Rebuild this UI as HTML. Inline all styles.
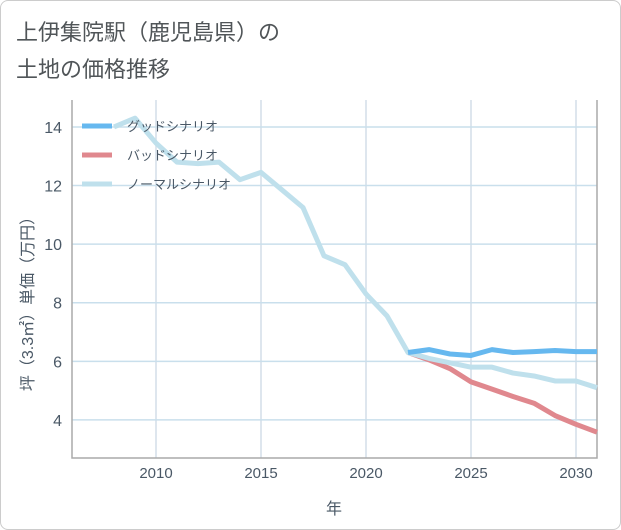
<!DOCTYPE html>
<html><head><meta charset="utf-8"><style>
body{margin:0;background:#fff;font-family:"Liberation Sans","Noto Sans CJK JP",sans-serif;}
#card{position:absolute;left:0;top:0;width:619px;height:528px;border:1px solid #ccc;border-radius:8px;background:#fff;}
#title{position:absolute;left:16px;top:14px;font-size:22px;line-height:37px;color:#505558;}
svg{position:absolute;left:0;top:0}
</style></head><body>
<div id="card"></div>
<div id="title">上伊集院駅（鹿児島県）の<br>土地の価格推移</div>
<svg id="chart" width="621" height="530"></svg>
<script>
const years=[2008,2009,2010,2011,2012,2013,2014,2015,2016,2017,2018,2019,2020,2021,2022,2023,2024,2025,2026,2027,2028,2029,2030,2031];
const normal=[14.0,14.3,13.45,12.8,12.75,12.8,12.2,12.45,11.85,11.25,9.6,9.3,8.3,7.55,6.3,6.1,5.95,5.8,5.8,5.6,5.5,5.33,5.33,5.1];
const goodYears=[2022,2023,2024,2025,2026,2027,2028,2029,2030,2031];
const good=[6.3,6.4,6.25,6.2,6.4,6.3,6.33,6.37,6.33,6.33];
const bad=[6.3,6.05,5.75,5.3,5.05,4.8,4.57,4.15,3.85,3.58];
const xTicks=[2010,2015,2020,2025,2030];
const yTicks=[4,6,8,10,12,14];
const L=72,R=597,T=100,B=458,x0=2006,x1=2031,y0=2.7,y1=14.92;
const X=v=>L+(v-x0)/(x1-x0)*(R-L), Y=v=>B-(v-y0)/(y1-y0)*(B-T);
const svg=document.getElementById('chart');const NS='http://www.w3.org/2000/svg';
const TC='#4a5866';
function mk(t,a,p){const e=document.createElementNS(NS,t);for(const k in a)e.setAttribute(k,a[k]);(p||svg).appendChild(e);return e;}
for(const t of xTicks){const l=mk('line',{x1:X(t),x2:X(t),y1:T,y2:B,stroke:'#d3dde8','stroke-width':1.5});


const tx=mk('text',{x:X(t),y:478,'text-anchor':'middle','font-size':15,fill:TC});tx.textContent=t;

}
for(const t of yTicks){const l=mk('line',{x1:L,x2:R,y1:Y(t),y2:Y(t),stroke:'#c9dfec','stroke-width':1.5});


const tx=mk('text',{x:62,y:Y(t)+6,'text-anchor':'end','font-size':16,fill:TC});tx.textContent=t;

}
const ax=mk('path',{d:`M${L} ${T}V${B}H${R}V${T}`,fill:'none',stroke:'#aaa','stroke-width':1.5});


function line(xs,ys,c,n){const p=mk('polyline',{points:xs.map((v,i)=>X(v)+','+Y(ys[i])).join(' '),fill:'none',stroke:c,'stroke-width':5,'stroke-linejoin':'round'});

}
line(goodYears,bad,'#e0888e','bad-scenario-line');
line(years,normal,'#bfe0ec','normal-scenario-line');
line(goodYears,good,'#66b8ef','good-scenario-line');
const leg=[['グッドシナリオ','#66b8ef'],['バッドシナリオ','#e0888e'],['ノーマルシナリオ','#bfe0ec']];
leg.forEach((e,i)=>{const g=mk('g',{});


const y=126+i*29;mk('line',{x1:82,x2:112,y1:y,y2:y,stroke:e[1],'stroke-width':5},g);
const t=mk('text',{x:127,y:y+5,'font-size':13,fill:TC},g);t.textContent=e[0];});
const xt=mk('text',{x:334,y:514,'text-anchor':'middle','font-size':16,fill:TC});xt.textContent='年';


const yt=mk('text',{x:0,y:0,'text-anchor':'middle','font-size':16,fill:TC,transform:'translate(33,300) rotate(-90)'});yt.textContent='坪（3.3㎡）単価（万円）';


</script>
</body></html>
